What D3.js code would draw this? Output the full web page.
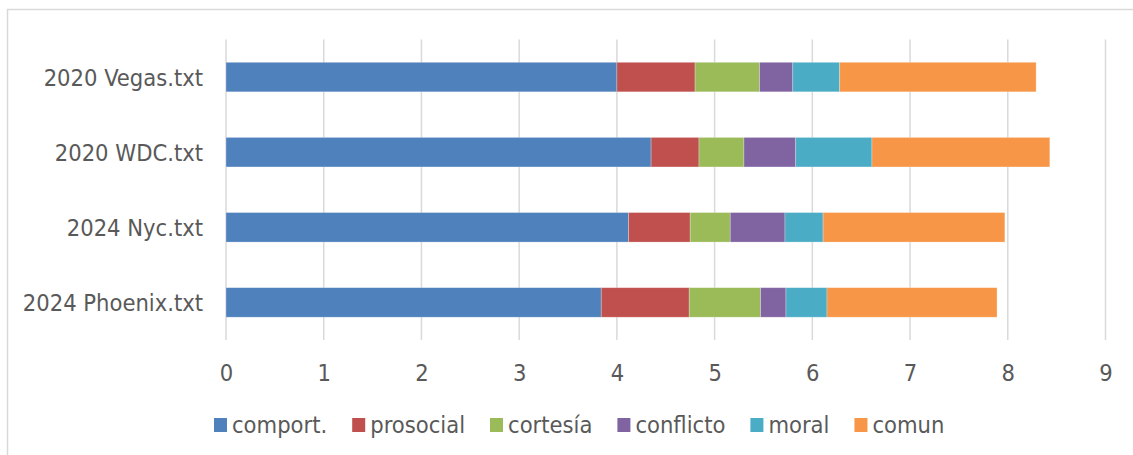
<!DOCTYPE html>
<html>
<head>
<meta charset="utf-8">
<script src="https://cdn.jsdelivr.net/npm/d3@7"></script>
<style>
  html, body { margin: 0; padding: 0; background: #fff; }
  svg text { font-family: "DejaVu Sans Condensed", "DejaVu Sans", sans-serif; font-stretch: condensed; fill: #595959; }
</style>
</head>
<body>
<svg id="chart" width="1133" height="455"></svg>
<script>
const categories = ["2020 Vegas.txt", "2020 WDC.txt", "2024 Nyc.txt", "2024 Phoenix.txt"];
const seriesNames = ["comport.", "prosocial", "cortesía", "conflicto", "moral", "comun"];
const comport   = [4.00, 4.35, 4.12, 3.84];
const prosocial = [0.80, 0.49, 0.63, 0.90];
const cortesia  = [0.66, 0.46, 0.41, 0.73];
const conflicto = [0.34, 0.53, 0.56, 0.26];
const moral     = [0.48, 0.78, 0.39, 0.42];
const comun     = [2.01, 1.82, 1.86, 1.74];
const xTicks = [0, 1, 2, 3, 4, 5, 6, 7, 8, 9];
const colors = ["#4F81BD", "#C0504D", "#9BBB59", "#8064A2", "#4BACC6", "#F79646"];

const seriesValues = [comport, prosocial, cortesia, conflicto, moral, comun];
const rows = categories.map((c, i) => {
  const r = { cat: c };
  seriesNames.forEach((s, j) => r[s] = seriesValues[j][i]);
  return r;
});

const svg = d3.select("#chart");

// outer chart border (only top and left visible in frame)
svg.append("rect").attr("x", 7.5).attr("y", 9.5).attr("width", 1140).attr("height", 460)
  .attr("fill", "none").attr("stroke", "#d9d9d9").attr("stroke-width", 1.5);

const x = d3.scaleLinear().domain([0, 9]).range([226, 1105.5]);
const y = d3.scaleBand().domain(categories).range([39.5, 340]).paddingInner(0.607).paddingOuter(0.3035);

// gridlines
svg.append("g").selectAll("line").data(xTicks).join("line")
  .attr("x1", d => x(d)).attr("x2", d => x(d))
  .attr("y1", 39.5).attr("y2", 340)
  .attr("stroke", "#d9d9d9").attr("stroke-width", 1.5);

const stack = d3.stack().keys(seriesNames)(rows);

svg.append("g").selectAll("g").data(stack).join("g")
  .attr("fill", (d, i) => colors[i])
  .selectAll("rect").data(d => d).join("rect")
  .attr("x", d => x(d[0]))
  .attr("width", d => x(d[1]) - x(d[0]))
  .attr("y", d => y(d.data.cat))
  .attr("height", y.bandwidth())
  .attr("stroke", "#ffffff").attr("stroke-opacity", 0.35).attr("stroke-width", 0.75);

const FS = 23.5;

// x axis labels
const xAxis = d3.axisBottom(x).tickValues(xTicks).tickSize(0).tickPadding(0).tickFormat(d3.format("d"));
const gx = svg.append("g").attr("transform", "translate(0,364)").call(xAxis);
gx.select(".domain").remove();
gx.selectAll("text").attr("font-size", FS).attr("fill", "#595959")
  .attr("font-family", null).attr("dy", "0.71em");

// y axis labels
const yAxis = d3.axisLeft(y).tickSize(0).tickPadding(0);
const gy = svg.append("g").attr("transform", "translate(203,0)").call(yAxis);
gy.select(".domain").remove();
gy.selectAll("text").attr("font-size", FS).attr("fill", "#595959")
  .attr("font-family", null).attr("dy", "0.36em");

// legend
const legend = svg.append("g").attr("transform", "translate(214,425)");
let lx = 0;
seriesNames.forEach((s, i) => {
  const g = legend.append("g").attr("transform", `translate(${lx},0)`);
  g.append("rect").attr("x", 0).attr("y", -7).attr("width", 13).attr("height", 14).attr("fill", colors[i]);
  const t = g.append("text").attr("x", 18).attr("y", 0).attr("dy", "0.36em")
    .attr("font-size", FS).text(s);
  const w = t.node().getComputedTextLength();
  lx += 18 + w + 25;
});
</script>
</body>
</html>
